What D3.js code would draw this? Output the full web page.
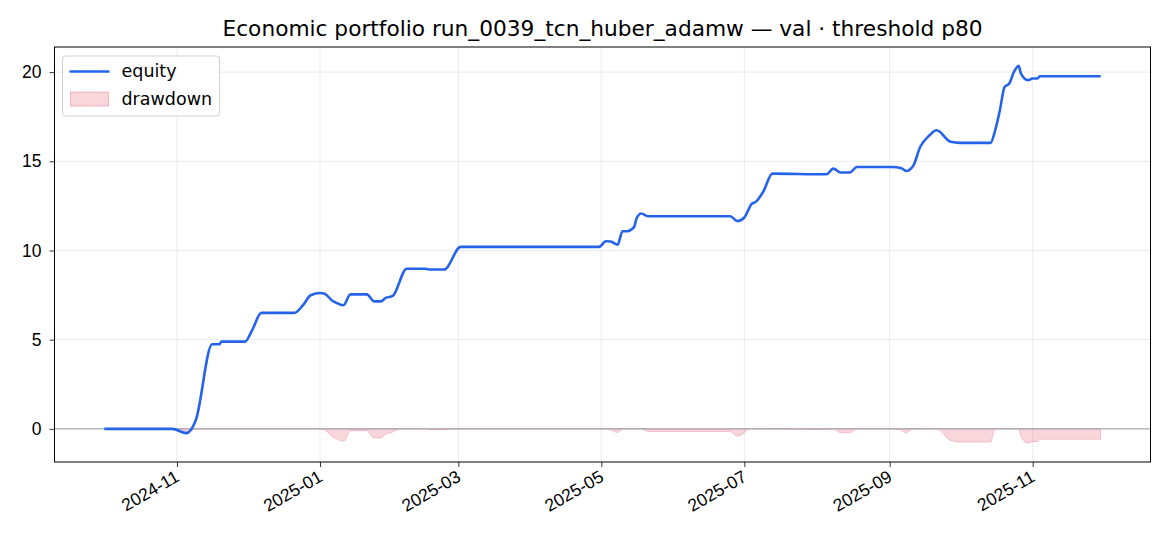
<!DOCTYPE html>
<html>
<head>
  <meta charset="utf-8">
  <title>Economic portfolio</title>
  <script src="https://cdnjs.cloudflare.com/ajax/libs/d3/7.8.5/d3.min.js"></script>
  <style>
    body { margin: 0; background: #fff; }
    svg { font-family: "DejaVu Sans", sans-serif; }
    .grid line { stroke: #e6e6e6; stroke-width: 0.8; }
    .axis path, .axis line { stroke: #000; stroke-width: 0.8; }
    .axis text { font-size: 17.5px; fill: #000; }
  </style>
</head>
<body>
<div id="chart"></div>
<script>

// equity curve, breakpoints
var eqDates = ["2024-10-01","2024-10-30","2024-11-05","2024-11-09","2024-11-16","2024-11-19","2024-11-20","2024-11-30",
  "2024-12-03","2024-12-07","2024-12-21","2024-12-25","2024-12-28","2025-01-01","2025-01-03","2025-01-06","2025-01-08",
  "2025-01-11","2025-01-14","2025-01-21","2025-01-24","2025-01-27","2025-01-29","2025-02-01","2025-02-07","2025-02-15",
  "2025-02-17","2025-02-23","2025-03-02","2025-04-30","2025-05-03","2025-05-05","2025-05-08","2025-05-10","2025-05-12",
  "2025-05-15","2025-05-16","2025-05-18","2025-05-21","2025-06-25","2025-06-28","2025-07-01","2025-07-04","2025-07-06",
  "2025-07-09","2025-07-13","2025-08-04","2025-08-05","2025-08-08","2025-08-11","2025-08-15","2025-08-18","2025-09-02",
  "2025-09-06","2025-09-08","2025-09-11","2025-09-14","2025-09-18","2025-09-21","2025-09-27","2025-10-01","2025-10-14",
  "2025-10-16","2025-10-18","2025-10-20","2025-10-22","2025-10-24","2025-10-26","2025-10-27","2025-10-30","2025-11-01",
  "2025-11-03","2025-11-04","2025-11-30"];
var eqValues = [0,0,-0.24,0.48,4.74,4.74,4.89,4.89,
  5.52,6.5,6.5,6.98,7.49,7.62,7.58,7.21,7.06,
  6.93,7.54,7.54,7.15,7.15,7.34,7.45,8.98,8.98,
  8.93,8.93,10.2,10.2,10.52,10.5,10.33,11.08,11.08,
  11.32,11.79,12.07,11.92,11.92,11.65,11.85,12.59,12.74,
  13.28,14.31,14.27,14.27,14.59,14.37,14.37,14.68,14.68,
  14.61,14.46,14.74,15.8,16.46,16.74,16.09,16.03,16.03,
  16.74,17.86,19.17,19.36,20.01,20.35,19.92,19.55,19.64,
  19.64,19.77,19.77];

// drawdown (negative)
var ddDates = ["2024-10-01","2024-10-30","2024-11-05","2024-11-09","2025-01-01","2025-01-03","2025-01-06","2025-01-08",
  "2025-01-11","2025-01-14","2025-01-21","2025-01-24","2025-01-27","2025-01-29","2025-02-01","2025-02-04","2025-02-15",
  "2025-02-17","2025-02-23","2025-02-26","2025-05-03","2025-05-08","2025-05-10","2025-05-18","2025-05-21","2025-06-25",
  "2025-06-28","2025-07-01","2025-07-03","2025-07-13","2025-08-04","2025-08-05","2025-08-08","2025-08-11","2025-08-15",
  "2025-08-18","2025-09-02","2025-09-06","2025-09-08","2025-09-11","2025-09-21","2025-09-27","2025-10-01","2025-10-14",
  "2025-10-16","2025-10-26","2025-10-27","2025-10-30","2025-11-01","2025-11-03","2025-11-04","2025-11-30"];
var ddValues = [0,0,-0.24,0,0,-0.05,-0.42,-0.57,
  -0.7,-0.1,-0.1,-0.5,-0.5,-0.3,-0.18,0,0,
  -0.05,-0.05,0,0,-0.2,0,0,-0.15,-0.15,
  -0.42,-0.22,0,0,-0.04,-0.04,0,-0.22,-0.22,
  0,0,-0.07,-0.22,0,0,-0.65,-0.74,-0.74,
  0,0,-0.43,-0.8,-0.71,-0.71,-0.58,-0.58];

var yTicks = [0, 5, 10, 15, 20];
var titleText = "Economic portfolio run_0039_tcn_huber_adamw \u2014 val \u00b7 threshold p80";

var parse = d3.timeParse("%Y-%m-%d");
var equity = eqDates.map((d, i) => ({date: parse(d), v: eqValues[i]}));
var drawdown = ddDates.map((d, i) => ({date: parse(d), v: ddValues[i]}));

var W = 1170, H = 546;
var margin = {top: 47, right: 19.5, bottom: 84, left: 54.5},
    width = W - margin.left - margin.right,
    height = H - margin.top - margin.bottom;

var svg = d3.select("#chart").append("svg")
    .attr("width", W).attr("height", H);

svg.append("text")
  .attr("x", margin.left + width / 2).attr("y", 35.5)
  .attr("text-anchor", "middle")
  .style("font-size", "21.7px")
  .text(titleText);

var g = svg.append("g").attr("transform", "translate(" + margin.left + "," + margin.top + ")");

// matplotlib-like 5% margins
var xExt = d3.extent(equity, d => d.date);
var xPad = (xExt[1] - xExt[0]) * 0.05;
var x = d3.scaleTime()
  .domain([new Date(+xExt[0] - xPad), new Date(+xExt[1] + xPad)])
  .range([0, width]);

var yMin = d3.min(drawdown, d => d.v), yMax = d3.max(equity, d => d.v);
var yPad = (yMax - yMin) * 0.05;
var y = d3.scaleLinear().domain([yMin - yPad, yMax + yPad]).range([height, 0]);

var xTicks = x.ticks(d3.timeMonth.every(2));

// grid
g.append("g").attr("class", "grid").selectAll("line.v").data(xTicks).enter().append("line")
  .attr("x1", d => x(d)).attr("x2", d => x(d)).attr("y1", 0).attr("y2", height);
g.append("g").attr("class", "grid").selectAll("line.h").data(yTicks).enter().append("line")
  .attr("x1", 0).attr("x2", width).attr("y1", d => y(d)).attr("y2", d => y(d));

// drawdown band
g.append("path")
  .datum(drawdown)
  .attr("fill", "crimson").attr("fill-opacity", 0.18)
  .attr("stroke", "crimson").attr("stroke-opacity", 0.2).attr("stroke-width", 1)
  .attr("d", d3.area().x(d => x(d.date)).y0(y(0)).y1(d => y(d.v)).curve(d3.curveMonotoneX));

// zero line
g.append("line")
  .attr("x1", 0).attr("x2", width).attr("y1", y(0)).attr("y2", y(0))
  .attr("stroke", "#9aa0ae").attr("stroke-width", 1);

// equity
g.append("path")
  .datum(equity)
  .attr("fill", "none")
  .attr("stroke", "#2563eb").attr("stroke-width", 2.6)
  .attr("stroke-linejoin", "round")
  .attr("d", d3.line().x(d => x(d.date)).y(d => y(d.v)).curve(d3.curveMonotoneX));

// axes
var xAxis = g.append("g").attr("class", "axis")
  .attr("transform", "translate(0," + height + ")")
  .call(d3.axisBottom(x).tickValues(xTicks).tickFormat(d3.timeFormat("%Y-%m")).tickSize(5).tickSizeOuter(0));
xAxis.select(".domain").remove();
xAxis.selectAll("text")
  .attr("text-anchor", "end")
  .attr("dy", "0.35em")
  .attr("transform", "translate(-4,6) rotate(-30)");

var yAxis = g.append("g").attr("class", "axis")
  .call(d3.axisLeft(y).tickValues(yTicks).tickSize(5).tickPadding(8));
yAxis.select(".domain").remove();

g.append("rect")
  .attr("width", width).attr("height", height)
  .attr("fill", "none").attr("stroke", "#000").attr("stroke-width", 1);

// legend
var lg = g.append("g").attr("transform", "translate(8,9)");
lg.append("rect").attr("width", 157).attr("height", 60).attr("rx", 3)
  .attr("fill", "#fff").attr("fill-opacity", 0.8).attr("stroke", "#d0d0d0");
lg.append("line").attr("x1", 7).attr("x2", 47).attr("y1", 15.5).attr("y2", 15.5)
  .attr("stroke", "#2563eb").attr("stroke-width", 2.6);
lg.append("rect").attr("x", 8).attr("y", 36).attr("width", 38).attr("height", 14)
  .attr("fill", "crimson").attr("fill-opacity", 0.18)
  .attr("stroke", "crimson").attr("stroke-opacity", 0.25);
lg.append("text").attr("x", 59).attr("y", 21).style("font-size", "17.5px").text("equity");
lg.append("text").attr("x", 59).attr("y", 49).style("font-size", "17.5px").text("drawdown");

</script>
</body>
</html>
